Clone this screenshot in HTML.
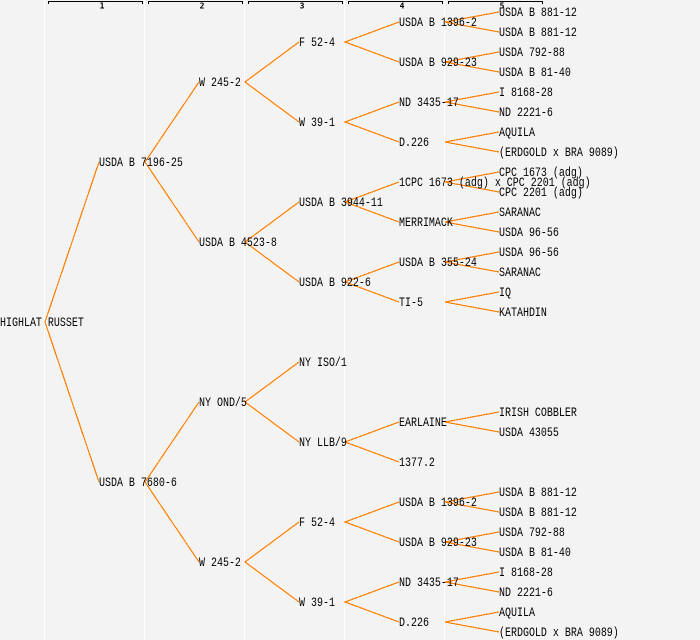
<!DOCTYPE html>
<html><head><meta charset="utf-8"><style>
html,body{margin:0;padding:0;background:#f3f3f3;width:700px;height:640px;overflow:hidden}
svg{display:block}
text{font-family:"Liberation Mono","DejaVu Sans Mono",monospace;font-size:12.5px;fill:#000}
.s{font-family:"DejaVu Sans Mono",monospace;font-size:8px;font-weight:bold;text-anchor:middle}
</style></head><body>
<svg width="700" height="640" viewBox="0 0 700 640" xmlns="http://www.w3.org/2000/svg">
<rect width="700" height="640" fill="#f3f3f3"/>
<g stroke="#fff" stroke-width="1" shape-rendering="crispEdges">
<path d="M44.5 0V640M144.5 0V640M244.5 0V640M344.5 0V640M444.5 0V640"/>
</g>
<g stroke="#000" fill="none" stroke-width="1" shape-rendering="crispEdges">
<path d="M48.5 4V1.5H142.5V4M148.5 4V1.5H242.5V4M248.5 4V1.5H342.5V4M348.5 4V1.5H442.5V4M448.5 4V1.5H542.5V4"/>
</g>
<text class="s" x="102" y="8.5">1</text><text class="s" x="202" y="8.5">2</text><text class="s" x="302" y="8.5">3</text><text class="s" x="402" y="8.5">4</text><text class="s" x="502" y="8.5">5</text>
<g stroke="#ff8000" fill="none" stroke-width="1.2" shape-rendering="crispEdges">
<path d="M99 162L45 322L99 482"/>
<path d="M199 82L145 162L199 242M199 402L145 482L199 562"/>
<path d="M299 42L245 82L299 122M299 202L245 242L299 282M299 362L245 402L299 442M299 522L245 562L299 602"/>
<path d="M399 22L345 42L399 62M399 102L345 122L399 142M399 182L345 202L399 222M399 262L345 282L399 302M399 422L345 442L399 462M399 502L345 522L399 542M399 582L345 602L399 622"/>
<path d="M499 12L445 22L499 32M499 52L445 62L499 72M499 92L445 102L499 112M499 132L445 142L499 152M499 172L445 182L499 192M499 212L445 222L499 232M499 252L445 262L499 272M499 292L445 302L499 312M499 412L445 422L499 432M499 492L445 502L499 512M499 532L445 542L499 552M499 572L445 582L499 592M499 612L445 622L499 632"/>
</g>
<g transform="scale(0.8,1)">
<text x="0" y="326">HIGHLAT RUSSET</text>
<text x="123.75" y="166">USDA B 7196-25</text>
<text x="123.75" y="486">USDA B 7680-6</text>
<text x="248.75" y="86">W 245-2</text>
<text x="248.75" y="246">USDA B 4523-8</text>
<text x="248.75" y="406">NY OND/5</text>
<text x="248.75" y="566">W 245-2</text>
<text x="373.75" y="46">F 52-4</text>
<text x="373.75" y="126">W 39-1</text>
<text x="373.75" y="206">USDA B 3944-11</text>
<text x="373.75" y="286">USDA B 922-6</text>
<text x="373.75" y="366">NY ISO/1</text>
<text x="373.75" y="446">NY LLB/9</text>
<text x="373.75" y="526">F 52-4</text>
<text x="373.75" y="606">W 39-1</text>
<text x="498.75" y="26">USDA B 1396-2</text>
<text x="498.75" y="66">USDA B 929-23</text>
<text x="498.75" y="106">ND 3435-17</text>
<text x="498.75" y="146">D.226</text>
<text x="498.75" y="186">1CPC 1673 (adg) x CPC 2201 (adg)</text>
<text x="498.75" y="226">MERRIMACK</text>
<text x="498.75" y="266">USDA B 355-24</text>
<text x="498.75" y="306">TI-5</text>
<text x="498.75" y="426">EARLAINE</text>
<text x="498.75" y="466">1377.2</text>
<text x="498.75" y="506">USDA B 1396-2</text>
<text x="498.75" y="546">USDA B 929-23</text>
<text x="498.75" y="586">ND 3435-17</text>
<text x="498.75" y="626">D.226</text>
<text x="623.75" y="16">USDA B 881-12</text>
<text x="623.75" y="36">USDA B 881-12</text>
<text x="623.75" y="56">USDA 792-88</text>
<text x="623.75" y="76">USDA B 81-40</text>
<text x="623.75" y="96">I 8168-28</text>
<text x="623.75" y="116">ND 2221-6</text>
<text x="623.75" y="136">AQUILA</text>
<text x="623.75" y="156">(ERDGOLD x BRA 9089)</text>
<text x="623.75" y="176">CPC 1673 (adg)</text>
<text x="623.75" y="196">CPC 2201 (adg)</text>
<text x="623.75" y="216">SARANAC</text>
<text x="623.75" y="236">USDA 96-56</text>
<text x="623.75" y="256">USDA 96-56</text>
<text x="623.75" y="276">SARANAC</text>
<text x="623.75" y="296">IQ</text>
<text x="623.75" y="316">KATAHDIN</text>
<text x="623.75" y="416">IRISH COBBLER</text>
<text x="623.75" y="436">USDA 43055</text>
<text x="623.75" y="496">USDA B 881-12</text>
<text x="623.75" y="516">USDA B 881-12</text>
<text x="623.75" y="536">USDA 792-88</text>
<text x="623.75" y="556">USDA B 81-40</text>
<text x="623.75" y="576">I 8168-28</text>
<text x="623.75" y="596">ND 2221-6</text>
<text x="623.75" y="616">AQUILA</text>
<text x="623.75" y="636">(ERDGOLD x BRA 9089)</text>
</g>
</svg>
</body></html>
